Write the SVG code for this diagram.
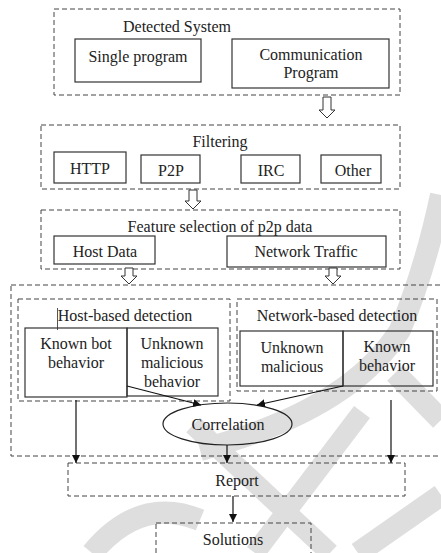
<svg xmlns="http://www.w3.org/2000/svg" width="441" height="553" viewBox="0 0 441 553">
<style>
text{font-family:"Liberation Serif","Times New Roman",serif;font-size:16px;fill:#222;text-anchor:middle}
.d{fill:none;stroke:#444;stroke-width:1;stroke-dasharray:5,3}
.b{fill:none;stroke:#333;stroke-width:1.2}
.h{fill:#fff;stroke:#333;stroke-width:1}
.l{stroke:#111;stroke-width:1.2;fill:none}
.wm{fill:none;stroke:#dedede;stroke-linecap:butt}
</style>
<defs>
<marker id="ah" viewBox="0 0 10 10" refX="10" refY="5" markerWidth="8" markerHeight="8" markerUnits="userSpaceOnUse" orient="auto">
<path d="M0,0 L10,5 L0,10 z" fill="#111"/>
</marker>
</defs>
<rect width="441" height="553" fill="#fff"/>
<g id="watermark">
<path class="wm" d="M92 553 Q140 495 200 520" stroke-width="22"/>
<path class="wm" d="M200 450 Q350 410 400 330 Q425 270 441 195" stroke-width="22"/>
<path class="wm" d="M193 425 L330 553" stroke-width="20"/>
<path class="wm" d="M362 412 L255 553" stroke-width="20"/>
<path class="wm" d="M441 495 L358 553" stroke-width="22"/>
<path class="wm" d="M395 373 L441 420" stroke-width="22"/>
</g>
<g id="detected-system">
<rect class="d" x="54" y="9" width="346" height="86"/>
<text x="177" y="32">Detected System</text>
</g>
<g id="single-program">
<rect class="b" x="75" y="39" width="126" height="43"/>
<text x="138" y="62">Single program</text>
</g>
<g id="communication-program">
<rect class="b" x="232" y="39" width="157" height="49"/>
<text x="311" y="60">Communication</text>
<text x="311" y="78">Program</text>
</g>
<g id="filtering">
<rect class="d" x="41" y="125" width="359" height="64"/>
<text x="220" y="147">Filtering</text>
</g>
<g id="http"><rect class="b" x="54" y="152" width="72" height="31"/><text x="90" y="174">HTTP</text></g>
<g id="p2p"><rect class="b" x="141" y="155" width="59" height="28"/><text x="171" y="176">P2P</text></g>
<g id="irc"><rect class="b" x="241" y="155" width="59" height="28"/><text x="271" y="176">IRC</text></g>
<g id="other"><rect class="b" x="321" y="155" width="60" height="28"/><text x="353" y="176">Other</text></g>
<g id="feature-selection">
<rect class="d" x="41" y="210" width="359" height="59"/>
<text x="220" y="232">Feature selection of p2p data</text>
</g>
<g id="host-data"><rect class="b" x="54" y="236" width="101" height="28"/><text x="105" y="257">Host Data</text></g>
<g id="network-traffic"><rect class="b" x="227" y="236" width="159" height="31"/><text x="306" y="257">Network Traffic</text></g>
<g id="detection">
<rect class="d" x="11" y="285" width="440" height="171"/>
</g>
<g id="host-based-detection">
<rect class="d" x="18" y="299" width="212" height="102"/>
<line x1="57.5" y1="308" x2="57.5" y2="330" stroke="#555" stroke-width="1"/>
<text x="125" y="321">Host-based detection</text>
</g>
<g id="known-bot-behavior">
<rect class="b" x="25" y="328" width="102" height="69"/>
<text x="76" y="349">Known bot</text>
<text x="76" y="368">behavior</text>
</g>
<g id="unknown-malicious-behavior">
<rect class="b" x="127" y="328" width="91" height="68" stroke-width="1"/>
<text x="172" y="349">Unknown</text>
<text x="172" y="368">malicious</text>
<text x="172" y="387">behavior</text>
</g>
<g id="network-based-detection">
<rect class="d" x="237" y="299" width="200" height="92"/>
<text x="337" y="321">Network-based detection</text>
</g>
<g id="unknown-malicious">
<rect class="b" x="240" y="331" width="103" height="55"/>
<text x="292" y="353">Unknown</text>
<text x="292" y="372">malicious</text>
</g>
<g id="known-behavior">
<rect class="b" x="343" y="331" width="90" height="55"/>
<text x="387" y="352">Known</text>
<text x="387" y="371">behavior</text>
</g>
<g id="correlation">
<ellipse cx="227.5" cy="424" rx="64.5" ry="21" fill="none" stroke="#222" stroke-width="1.2"/>
<text x="228" y="430">Correlation</text>
</g>
<g id="report">
<rect class="d" x="68" y="463" width="337" height="33"/>
<text x="237" y="486">Report</text>
</g>
<g id="solutions">
<rect class="d" x="156" y="523" width="155" height="40"/>
<text x="233" y="545">Solutions</text>
</g>
<g id="connectors">
<path class="h" d="M323 97 h8 v13 h4 l-8 8 l-8 -8 h4 z"/>
<path class="h" d="M189 190 h8 v11 h4 l-8 8 l-8 -8 h4 z"/>
<path class="h" d="M125 268 h8 v8 h4 l-8 8 l-8 -8 h4 z"/>
<path class="h" d="M329 268 h8 v8 h4 l-8 8 l-8 -8 h4 z"/>
<line class="l" x1="127" y1="386" x2="201" y2="405" marker-end="url(#ah)"/>
<line class="l" x1="343" y1="386" x2="257" y2="405" marker-end="url(#ah)"/>
<line class="l" x1="76" y1="400" x2="76" y2="463" marker-end="url(#ah)"/>
<line class="l" x1="391" y1="400" x2="391" y2="463" marker-end="url(#ah)"/>
<line class="l" x1="227" y1="445" x2="227" y2="463" marker-end="url(#ah)"/>
<line class="l" x1="233" y1="496" x2="233" y2="522" marker-end="url(#ah)"/>
</g>
</svg>
